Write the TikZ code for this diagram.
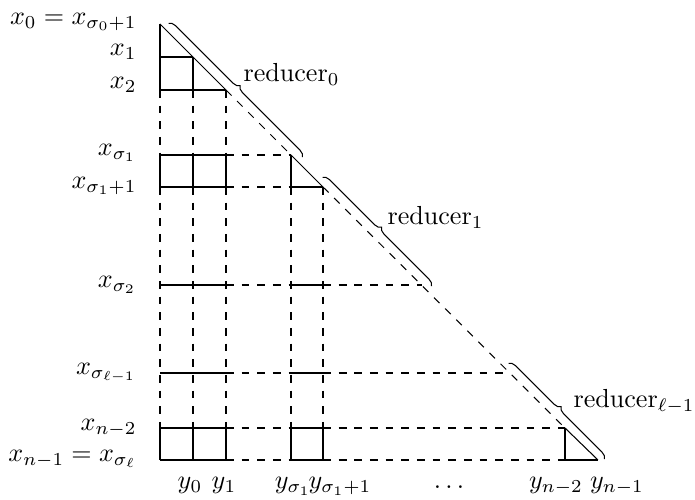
\documentclass[tikz,border=0pt]{standalone}
\usetikzlibrary{decorations.pathreplacing}
\begin{document}
\begin{tikzpicture}[
x=0.383pt,y=-0.383pt,
known/.style={thin},
unknown/.style={thin,dashed},
reducer/.style={decorate,decoration={brace,amplitude=2.5pt,raise=2.5pt}},
rowlabel/.style={anchor=east,inner sep=0pt},
collabel/.style={anchor=base,inner sep=0pt},
redlabel/.style={anchor=base west,inner sep=0pt}
]
\useasboundingbox (0,0) rectangle (695,500);
% points on the diagonal
\coordinate (d0) at (160,24);
\coordinate (d2) at (226,90);
\coordinate (d3) at (291,155);
\coordinate (d4) at (323,187);
\coordinate (d7) at (565,428);
\coordinate (d8) at (598,460);
% row labels
\node[rowlabel] (x0) at (137,22) {$x_0 = x_{\sigma_0+1}$};
\node[rowlabel] (x1) at (137,52) {$x_1$};
\node[rowlabel] (x2) at (137,85) {$x_2$};
\node[rowlabel] (xs1) at (137,153) {$x_{\sigma_1}$};
\node[rowlabel] (xs1p) at (137,186) {$x_{\sigma_1+1}$};
\node[rowlabel] (xs2) at (137,285) {$x_{\sigma_2}$};
\node[rowlabel] (xsl) at (137,373) {$x_{\sigma_{\ell-1}}$};
\node[rowlabel] (xn2) at (137,428) {$x_{n-2}$};
\node[rowlabel] (xn1) at (137,459) {$x_{n-1} = x_{\sigma_\ell}$};
% column labels
\node[collabel] (y0) at (190,489) {$y_0$};
\node[collabel] (y1) at (224,489) {$y_1$};
\node[collabel] (ys1) at (293,489) {$y_{\sigma_1}$};
\node[collabel] (ys1p) at (340,489) {$y_{\sigma_1+1}$};
\node[collabel] (dots) at (449,489) {$\dots$};
\node[collabel] (yn2) at (556,489) {$y_{n-2}$};
\node[collabel] (yn1) at (617,489) {$y_{n-1}$};
% rows
\draw[known] (160,57) -- (193,57);
\draw[known] (160,90) -- (d2);
\foreach \r in {155,187,285,373,428,460} {
  \draw[known] (160,\r) -- (226,\r);
  \draw[unknown] (226,\r) -- (291,\r);
}
\foreach \r in {187,285,373,428,460}
  \draw[known] (291,\r) -- (323,\r);
\foreach \r/\e in {285/422,373/510,428/565,460/565}
  \draw[unknown] (323,\r) -- (\e,\r);
\draw[known] (565,460) -- (d8);
% columns
\draw[known] (d0) -- (160,90);
\draw[known] (193,57) -- (193,90);
\foreach \c in {160,193,226}
  \draw[unknown] (\c,90) -- (\c,155);
\foreach \c in {160,193,226,291}
  \draw[known] (\c,155) -- (\c,187);
\foreach \c in {160,193,226,291,323} {
  \draw[unknown] (\c,187) -- (\c,428);
  \draw[known] (\c,428) -- (\c,460);
}
\draw[known] (d7) -- (565,460);
% diagonal
\draw[known] (d0) -- (d2);
\draw[unknown] (d2) -- (d3);
\draw[known] (d3) -- (d4);
\draw[unknown] (d4) -- (d7);
\draw[known] (d7) -- (d8);
% reducers
\draw[reducer] (164,28) -- (298,162);
\draw[reducer] (318,182) -- (427,291);
\draw[reducer] (504,368) -- (600,464);
\node[redlabel] (r0) at (243,82) {reducer$_0$};
\node[redlabel] (r1) at (387,225) {reducer$_1$};
\node[redlabel] (rl) at (573,408) {reducer$_{\ell-1}$};
\end{tikzpicture}
\end{document}
